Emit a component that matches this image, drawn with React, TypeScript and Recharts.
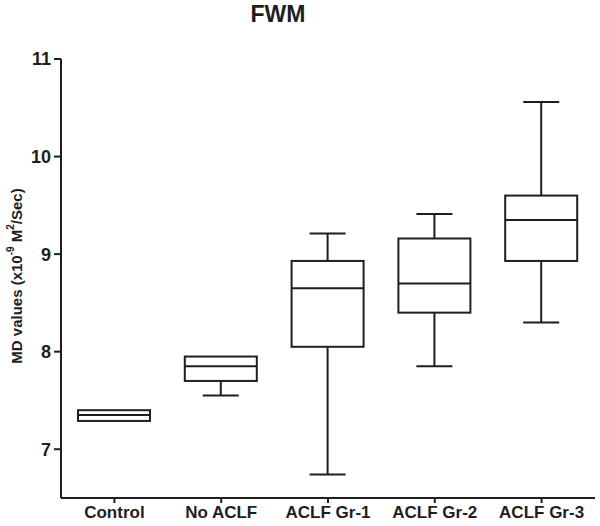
import React from "react";
import { ComposedChart, Bar, XAxis, YAxis } from "recharts";

// values (x10^-9 M^2/Sec)
const groups = ["Control", "No ACLF", "ACLF Gr-1", "ACLF Gr-2", "ACLF Gr-3"];
const mins = [7.29, 7.55, 6.74, 7.85, 8.3];
const q1s = [7.29, 7.7, 8.05, 8.4, 8.93];
const medians = [7.35, 7.85, 8.65, 8.7, 9.35];
const q3s = [7.4, 7.95, 8.93, 9.16, 9.6];
const maxs = [7.4, 7.95, 9.21, 9.41, 10.56];
const yTicks = [7, 8, 9, 10, 11];

const data = groups.map((name, i) => ({
  name,
  min: mins[i],
  q1: q1s[i],
  median: medians[i],
  q3: q3s[i],
  max: maxs[i],
  range: [mins[i], maxs[i]],
}));

const INK = "#1e1e1e";
const FONT = "'Liberation Sans', Arial, sans-serif";

const BoxShape = (props: any) => {
  const { x, y, width, height, payload } = props;
  const { min, max, q1, median, q3 } = payload;
  // bar spans [min, max] on the y scale, positions inside are linear in it
  const toY = (v: number) => (max === min ? y : y + (height * (max - v)) / (max - min));
  const cx = x + width / 2;
  const cap = width / 2;
  const yMin = toY(min);
  const yMax = toY(max);
  const yQ1 = toY(q1);
  const yQ3 = toY(q3);
  const yMed = toY(median);
  return (
    <g stroke={INK} strokeWidth={2} fill="none">
      {max > q3 && (
        <>
          <line x1={cx} x2={cx} y1={yMax} y2={yQ3} />
          <line x1={cx - cap / 2} x2={cx + cap / 2} y1={yMax} y2={yMax} />
        </>
      )}
      {min < q1 && (
        <>
          <line x1={cx} x2={cx} y1={yQ1} y2={yMin} />
          <line x1={cx - cap / 2} x2={cx + cap / 2} y1={yMin} y2={yMin} />
        </>
      )}
      <rect x={x} y={yQ3} width={width} height={yQ1 - yQ3} fill="#fff" />
      <line x1={x} x2={x + width} y1={yMed} y2={yMed} />
    </g>
  );
};

const YLabel = () => {
  const cx = 16;
  const cy = 276;
  return (
    <text
      x={cx}
      y={cy}
      transform={`rotate(-90, ${cx}, ${cy})`}
      textAnchor="middle"
      dominantBaseline="central"
      fontFamily={FONT}
      fontWeight="bold"
      fontSize={15}
      fill={INK}
    >
      MD values (x10
      <tspan baselineShift="super" fontSize={10}>-9</tspan>
      <tspan> M</tspan>
      <tspan baselineShift="super" fontSize={10}>2</tspan>
      <tspan>/Sec)</tspan>
    </text>
  );
};

export default function App() {
  return (
    <div style={{ position: "absolute", left: 0, top: 0, width: 600, height: 526, background: "#fff" }}>
      <div
        style={{
          position: "absolute",
          left: 0,
          width: 556,
          top: 1,
          textAlign: "center",
          fontFamily: FONT,
          fontWeight: "bold",
          fontSize: 23,
          color: INK,
        }}
      >
        FWM
      </div>
      <ComposedChart
        width={600}
        height={526}
        data={data}
        margin={{ top: 59, right: 5, bottom: 0, left: 0 }}
        barCategoryGap={0}
      >
        <XAxis
          dataKey="name"
          height={28}
          axisLine={{ stroke: INK, strokeWidth: 2 }}
          tickLine={{ stroke: INK, strokeWidth: 2 }}
          tickSize={5}
          tickMargin={3}
          interval={0}
          tick={{ fill: INK, fontSize: 17, fontWeight: "bold", fontFamily: FONT }}
        />
        <YAxis
          width={61}
          type="number"
          domain={[6.5, 11]}
          ticks={yTicks}
          allowDataOverflow
          axisLine={{ stroke: INK, strokeWidth: 2 }}
          tickLine={{ stroke: INK, strokeWidth: 2 }}
          tickSize={7}
          tickMargin={3}
          tick={{ fill: INK, fontSize: 18, fontWeight: "bold", fontFamily: FONT }}
          label={<YLabel />}
        />
        <Bar dataKey="range" barSize={72} shape={<BoxShape />} isAnimationActive={false} />
      </ComposedChart>
    </div>
  );
}
